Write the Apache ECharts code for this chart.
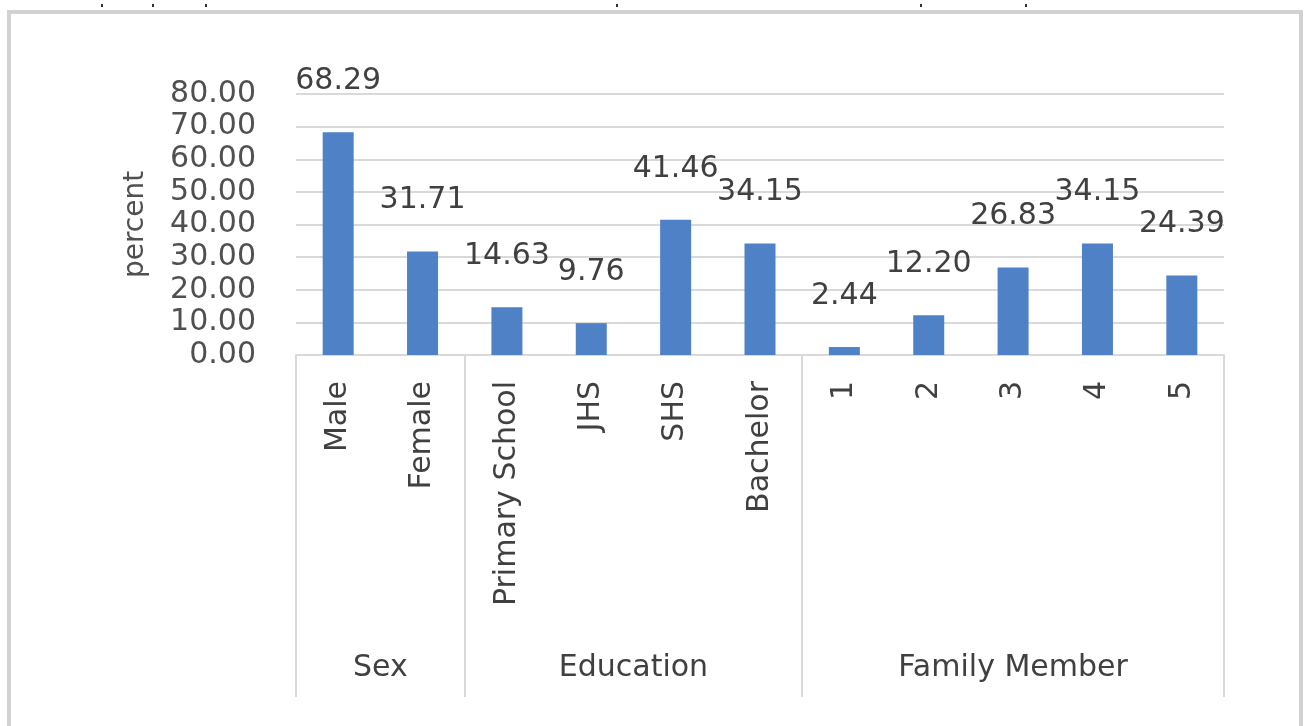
<!DOCTYPE html>
<html>
<head>
<meta charset="utf-8">
<script src="https://cdn.jsdelivr.net/npm/echarts@6/dist/echarts.min.js"></script>
<style>
html,body{margin:0;padding:0;background:#fff;}
#chart{width:1308px;height:726px;}
</style>
</head>
<body>
<div id="chart"></div>
<script>
const categories = ['Male', 'Female', 'Primary School', 'JHS', 'SHS', 'Bachelor', '1', '2', '3', '4', '5'];
const percentValues = [68.29, 31.71, 14.63, 9.76, 41.46, 34.15, 2.44, 12.20, 26.83, 34.15, 24.39];
const groupNames = ['Sex', 'Education', 'Family Member'];
const groupSizes = [2, 4, 5];
const yMin = 0, yMax = 80, yInterval = 10;
const yAxisName = 'percent';

// group boundaries and centres in category units
const boundaries = [0];
const centres = [];
groupSizes.forEach(function (s) {
  const start = boundaries[boundaries.length - 1];
  centres.push(start + s / 2);
  boundaries.push(start + s);
});

const FONT = 'DejaVu Sans';
const chart = echarts.init(document.getElementById('chart'), null, {renderer: 'canvas'});

const marks = [102, 153, 206, 617, 921, 1026].map(function (x) {
  return {type: 'rect', shape: {x: x - 1, y: 4, width: 2, height: 3}, style: {fill: '#333'}, silent: true};
});

chart.setOption({
  animation: false,
  backgroundColor: '#ffffff',
  graphic: [
    {type: 'rect', shape: {x: 9, y: 12, width: 1292, height: 760},
      style: {fill: 'none', stroke: '#d2d2d2', lineWidth: 4}, silent: true, z: -1}
  ].concat(marks),
  grid: {left: 296, right: 84, top: 94, bottom: 371, containLabel: false},
  xAxis: [
    {
      type: 'category',
      data: categories,
      position: 'bottom',
      axisLine: {show: true, lineStyle: {color: '#d9d9d9', width: 2}},
      axisTick: {show: false},
      splitLine: {show: false},
      axisLabel: {
        rotate: 90, margin: 26, interval: 0,
        fontFamily: FONT, fontSize: 30, color: '#404040'
      }
    },
    {
      type: 'value',
      min: 0, max: categories.length,
      position: 'bottom',
      axisLine: {show: false},
      splitLine: {show: false},
      axisTick: {
        show: true, customValues: boundaries, length: 342, inside: false,
        lineStyle: {color: '#d9d9d9', width: 2}
      },
      axisLabel: {
        show: true, customValues: centres, margin: 298,
        fontFamily: FONT, fontSize: 30, color: '#404040',
        formatter: function (v) {
          const i = centres.indexOf(v);
          return i >= 0 ? groupNames[i] : '';
        }
      }
    }
  ],
  yAxis: {
    type: 'value',
    min: yMin, max: yMax, interval: yInterval,
    name: yAxisName,
    nameLocation: 'middle',
    nameGap: 146,
    nameRotate: 90,
    nameTextStyle: {fontFamily: FONT, fontSize: 28, color: '#505050'},
    axisLine: {show: false},
    axisTick: {show: false},
    splitLine: {show: true, lineStyle: {color: '#d9d9d9', width: 2}},
    axisLabel: {
      margin: 40, fontFamily: FONT, fontSize: 30, color: '#505050',
      formatter: function (v) { return v.toFixed(2); }
    }
  },
  series: [{
    type: 'bar',
    xAxisIndex: 0,
    data: percentValues,
    barWidth: 31,
    itemStyle: {color: '#4f81c7'},
    label: {
      show: true, position: 'top', distance: 36,
      fontFamily: FONT, fontSize: 30, color: '#404040',
      formatter: function (p) { return p.value.toFixed(2); }
    }
  }]
});
</script>
</body>
</html>
